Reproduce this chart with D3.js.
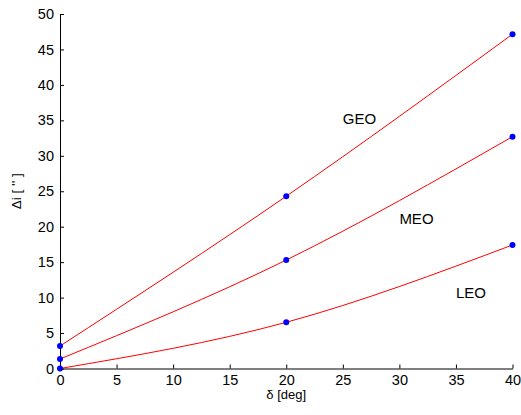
<!DOCTYPE html>
<html><head><meta charset="utf-8">
<script src="https://cdn.jsdelivr.net/npm/d3@7"></script>
<style>body{margin:0;background:#fff}svg{display:block}text{font-family:"Liberation Sans",Arial,sans-serif}</style>
</head><body><svg id="c" width="521" height="415"></svg>
<script>
const xValues = [0, 20, 40];
const geo = [3.17, 24.3, 47.15];
const meo = [1.34, 15.3, 32.7];
const leo = [0.0, 6.52, 17.42];
const seriesNames = ["GEO", "MEO", "LEO"];
const labelPos = [[25, 35.2], [30, 21.1], [35, 10.65]];
const xTicks = [0,5,10,15,20,25,30,35,40];
const yTicks = [0,5,10,15,20,25,30,35,40,45,50];

const svg = d3.select("#c");
const L=60, R=512.5, T=14, B=368.5;
const x = d3.scaleLinear().domain([0,40]).range([L,R]);
const y = d3.scaleLinear().domain([0,50]).range([B,T]);

const gx = svg.append("g").attr("transform",`translate(0,${B})`)
  .call(d3.axisBottom(x).tickValues(xTicks).tickSizeInner(-4).tickSizeOuter(0).tickPadding(6));
const gy = svg.append("g").attr("transform",`translate(${L},0)`)
  .call(d3.axisLeft(y).tickValues(yTicks).tickSizeInner(-4).tickSizeOuter(0).tickPadding(6));
[gx,gy].forEach(g=>{
  g.selectAll("text").attr("font-size",14.5).attr("fill","#000").attr("font-family","Liberation Sans, Arial, sans-serif");
  g.selectAll("line").attr("stroke","#000");
  g.select(".domain").attr("stroke","#000");
});
gx.selectAll("text").attr("dy","0.71em").attr("y",6);

const line = d3.line().x((d,i)=>x(xValues[i])).y(d=>y(d)).curve(d3.curveNatural);
[geo,meo,leo].forEach((s,k)=>{
  svg.append("path").attr("d",line(s)).attr("fill","none").attr("stroke","#ff0000").attr("stroke-width",1);
  svg.selectAll(null).data(s).enter().append("circle")
    .attr("cx",(d,i)=>x(xValues[i])).attr("cy",d=>y(d)).attr("r",3).attr("fill","#0000ff");
  svg.append("text").attr("x",x(labelPos[k][0])).attr("y",y(labelPos[k][1])).attr("dy","0.35em")
    .attr("font-size",15).text(seriesNames[k]);
});

svg.append("text").attr("x",(L+R)/2).attr("y",399).attr("text-anchor","middle").attr("font-size",13).text("δ [deg]");
svg.append("text").attr("transform",`translate(21,${(T+B)/2}) rotate(-90)`).attr("text-anchor","middle")
  .attr("font-size",13.5).text("Δi [ '' ]");
</script></body></html>
